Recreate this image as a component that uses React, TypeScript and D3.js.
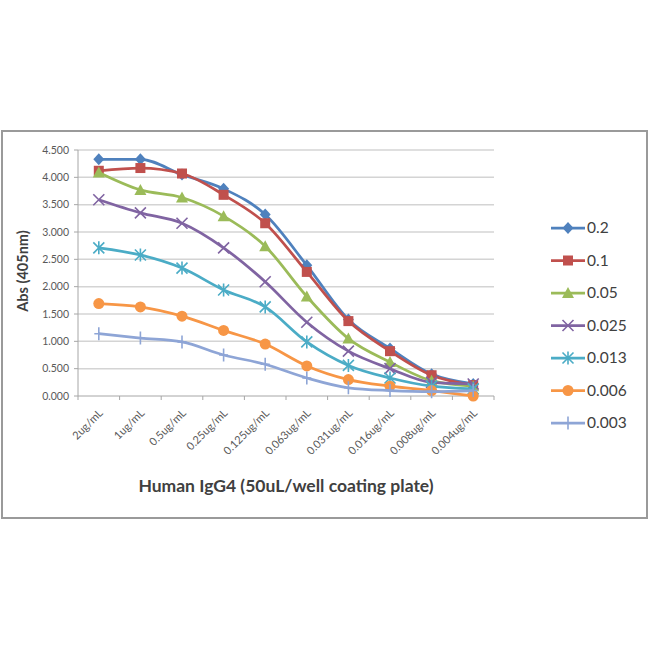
import React from "react";
import * as d3 from "d3";

const categories = ["2ug/mL", "1ug/mL", "0.5ug/mL", "0.25ug/mL", "0.125ug/mL", "0.063ug/mL", "0.031ug/mL", "0.016ug/mL", "0.008ug/mL", "0.004ug/mL"];
const seriesNames = ["0.2", "0.1", "0.05", "0.025", "0.013", "0.006", "0.003"];
const s02 = [4.33, 4.33, 4.05, 3.79, 3.32, 2.39, 1.4, 0.87, 0.4, 0.22];
const s01 = [4.12, 4.17, 4.07, 3.68, 3.16, 2.27, 1.37, 0.82, 0.38, 0.2];
const s005 = [4.09, 3.77, 3.63, 3.29, 2.74, 1.82, 1.05, 0.62, 0.28, 0.18];
const s0025 = [3.59, 3.35, 3.16, 2.71, 2.09, 1.35, 0.82, 0.5, 0.25, 0.22];
const s0013 = [2.71, 2.58, 2.34, 1.94, 1.63, 0.99, 0.56, 0.33, 0.18, 0.13];
const s0006 = [1.69, 1.63, 1.46, 1.2, 0.95, 0.55, 0.3, 0.18, 0.1, 0.0];
const s0003 = [1.14, 1.06, 0.99, 0.75, 0.58, 0.33, 0.15, 0.1, 0.08, 0.1];
const yTicks = [0, 0.5, 1, 1.5, 2, 2.5, 3, 3.5, 4, 4.5];

const seriesValues = [s02, s01, s005, s0025, s0013, s0006, s0003];
const colors = ["#4F81BD", "#C0504D", "#9BBB59", "#8064A2", "#4BACC6", "#F79646", "#8EA5D6"];
const markers = ["diamond", "square", "triangle", "x", "star", "circle", "plus"];

const FONT = "Lato, 'Open Sans', 'DejaVu Sans', sans-serif";

function Marker({ type, x, y, color }: { type: string; x: number; y: number; color: string }) {
  switch (type) {
    case "diamond":
      return <path d={`M${x},${y - 6}L${x + 5.5},${y}L${x},${y + 6}L${x - 5.5},${y}Z`} fill={color} />;
    case "square":
      return <rect x={x - 5} y={y - 5} width={10} height={10} fill={color} />;
    case "triangle":
      return <path d={`M${x},${y - 6}L${x + 6},${y + 5}L${x - 6},${y + 5}Z`} fill={color} />;
    case "circle":
      return <circle cx={x} cy={y} r={5.5} fill={color} />;
    case "x":
      return (
        <path d={`M${x - 5.5},${y - 5.5}L${x + 5.5},${y + 5.5}M${x - 5.5},${y + 5.5}L${x + 5.5},${y - 5.5}`} stroke={color} strokeWidth={1.6} />
      );
    case "star":
      return (
        <path
          d={`M${x - 5.5},${y - 5.5}L${x + 5.5},${y + 5.5}M${x - 5.5},${y + 5.5}L${x + 5.5},${y - 5.5}M${x},${y - 6.5}L${x},${y + 6.5}`}
          stroke={color}
          strokeWidth={1.6}
        />
      );
    case "plus":
      return <path d={`M${x - 4.5},${y}L${x + 4.5},${y}M${x},${y - 6.5}L${x},${y + 6.5}`} stroke={color} strokeWidth={1.6} />;
    default:
      return null;
  }
}

export default function App() {
  const W = 650;
  const H = 650;
  const left = 78;
  const right = 494;
  const top = 150;
  const bottom = 396;

  const x = d3.scaleBand<string>().domain(categories).range([left, right]);
  const cx = (c: string) => (x(c) as number) + x.bandwidth() / 2;
  const y = d3.scaleLinear().domain([0, 4.5]).range([bottom, top]);

  const line = d3
    .line<number>()
    .x((_, i) => cx(categories[i]))
    .y((d) => y(d))
    .curve(d3.curveMonotoneX);

  const legendX = 551;
  const legendY0 = 228;
  const legendStep = 32.5;

  return (
    <svg
      width={W}
      height={H}
      style={{ display: "block", background: "#fff", position: "fixed", left: 0, top: 0 }}
    >
      <rect x={0} y={0} width={W} height={H} fill="#fff" />
      <rect x={2} y={131} width={645} height={387} fill="#fff" stroke="#9a9a9a" strokeWidth={2} />

      {yTicks.map((t) => (
        <g key={t}>
          <line x1={left} x2={right} y1={y(t)} y2={y(t)} stroke={t === 0 ? "#a6a6a6" : "#d4d4d4"} strokeWidth={t === 0 ? 1 : 1.5} />
          <line x1={left - 4} x2={left} y1={y(t)} y2={y(t)} stroke="#a6a6a6" />
          <text x={left - 9} y={y(t)} dy="0.35em" textAnchor="end" fontSize={10.5} fill="#595959" fontFamily={FONT}>
            {t.toFixed(3)}
          </text>
        </g>
      ))}
      <line x1={left} x2={left} y1={top} y2={bottom} stroke="#a6a6a6" />
      {categories.concat([""]).map((c, i) => {
        const xx = left + i * x.bandwidth();
        return <line key={"t" + i} x1={xx} x2={xx} y1={bottom} y2={bottom + 4} stroke="#a6a6a6" />;
      })}

      {categories.map((c) => (
        <text
          key={c}
          transform={`translate(${cx(c) + 2},${bottom + 15}) rotate(-45)`}
          textAnchor="end"
          fontSize={11}
          fill="#595959"
          fontFamily={FONT}
          dy="0.35em"
        >
          {c}
        </text>
      ))}

      {seriesValues.map((vals, si) => (
        <g key={seriesNames[si]}>
          <path d={line(vals) || ""} fill="none" stroke={colors[si]} strokeWidth={2.75} strokeLinejoin="round" />
          {vals.map((v, i) => (
            <Marker key={i} type={markers[si]} x={cx(categories[i])} y={y(v)} color={colors[si]} />
          ))}
        </g>
      ))}

      <text x={286} y={492} textAnchor="middle" fontSize={17.5} fontWeight="bold" fill="#404040" fontFamily={FONT}>
        Human IgG4 (50uL/well coating plate)
      </text>
      <text
        transform={`translate(28,${(top + bottom) / 2 - 2}) rotate(-90)`}
        textAnchor="middle"
        fontSize={14.5}
        fontWeight="bold"
        fill="#404040"
        fontFamily={FONT}
      >
        Abs (405nm)
      </text>

      {seriesNames.map((n, i) => {
        const ly = legendY0 + i * legendStep;
        return (
          <g key={"l" + n}>
            <line x1={legendX} x2={legendX + 34} y1={ly} y2={ly} stroke={colors[i]} strokeWidth={2.75} />
            <Marker type={markers[i]} x={legendX + 17} y={ly} color={colors[i]} />
            <text x={legendX + 36} y={ly} dy="0.35em" fontSize={15.5} fill="#404040" fontFamily={FONT}>
              {n}
            </text>
          </g>
        );
      })}
    </svg>
  );
}
